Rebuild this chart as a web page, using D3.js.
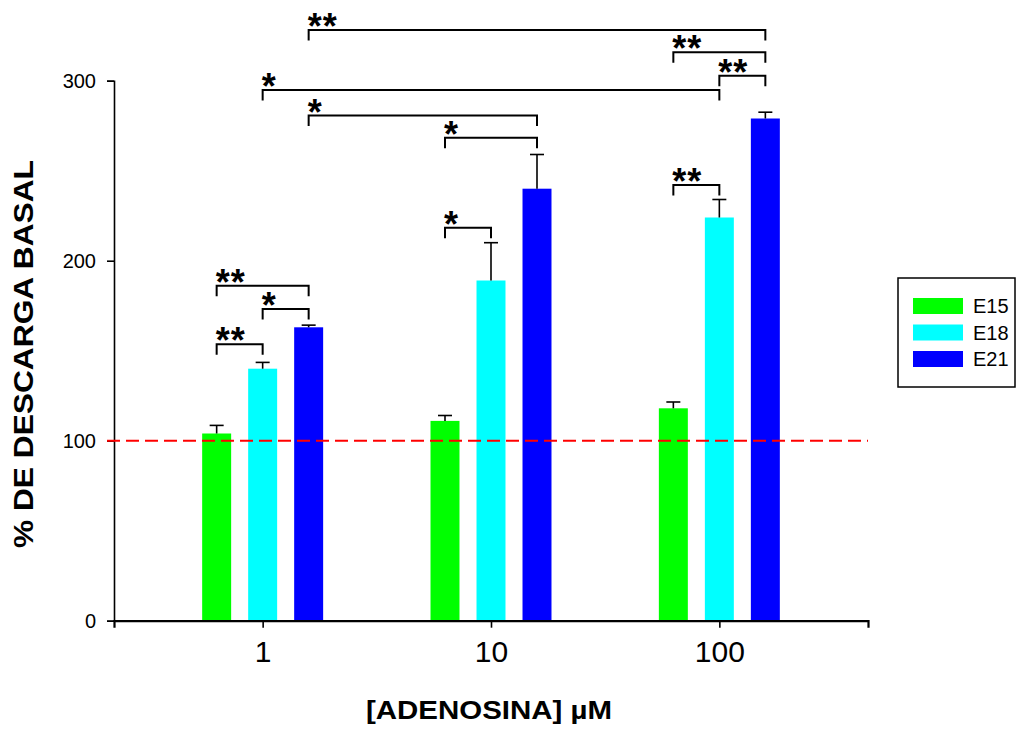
<!DOCTYPE html>
<html>
<head>
<meta charset="utf-8">
<script src="https://cdn.jsdelivr.net/npm/d3@7"></script>
<style>
  html, body { margin: 0; padding: 0; background: #fff; }
  svg { display: block; font-family: Arial, "Liberation Sans", sans-serif; }
</style>
</head>
<body>
<svg id="chart" width="1024" height="732"></svg>
<script>
// ---- data ----
const categories = ["1", "10", "100"];
const seriesNames = ["E15", "E18", "E21"];
const seriesColors = ["#00ff00", "#00ffff", "#0000ff"];
const valuesE15 = [104, 111, 118];
const valuesE18 = [140, 189, 224];
const valuesE21 = [163, 240, 279];
const errorsE15 = [4.5, 3, 3.5];
const errorsE18 = [3.5, 21, 10];
const errorsE21 = [1.2, 19, 3.5];
const yTicks = [0, 100, 200, 300];
const baseline = 100;
const xTitle = "[ADENOSINA] µM";
const yTitle = "% DE DESCARGA BASAL";

// significance brackets: [category, series] from -> to, level (y units), label
const bracketFrom  = [["1","E15"],["1","E18"],["1","E15"],["10","E15"],["10","E15"],["1","E21"],["1","E18"],["1","E21"],["100","E15"],["100","E18"],["100","E15"]];
const bracketTo    = [["1","E18"],["1","E21"],["1","E21"],["10","E18"],["10","E21"],["10","E21"],["100","E18"],["100","E21"],["100","E18"],["100","E21"],["100","E21"]];
const bracketLevel = [153.6, 173.2, 186.1, 218.3, 268.3, 280.6, 294.8, 328.2, 242.1, 302.8, 315.8];
const bracketLabel = ["**", "*", "**", "*", "*", "*", "*", "**", "**", "**", "**"];

// ---- build ----
const valuesBySeries = [valuesE15, valuesE18, valuesE21];
const errorsBySeries = [errorsE15, errorsE18, errorsE21];
const rows = [];
categories.forEach((c, ci) => {
  seriesNames.forEach((s, si) => {
    rows.push({cat: c, ser: s, value: valuesBySeries[si][ci], err: errorsBySeries[si][ci], color: seriesColors[si]});
  });
});

const svg = d3.select("#chart");
const x0 = d3.scalePoint().domain(categories).range([114, 868]).padding(0.651);
const x1 = d3.scaleBand().domain(seriesNames).range([-69, 69]).paddingInner(0.37).paddingOuter(0.185);
const y = d3.scaleLinear().domain([0, 300]).range([620.7, 80.7]);
const color = d3.scaleOrdinal().domain(seriesNames).range(seriesColors);
const cx = (c, s) => x0(c) + x1(s) + x1.bandwidth() / 2;

// bars
svg.append("g").selectAll("rect").data(rows).join("rect")
  .attr("x", d => x0(d.cat) + x1(d.ser))
  .attr("y", d => y(d.value))
  .attr("width", x1.bandwidth())
  .attr("height", d => y(0) - y(d.value))
  .attr("fill", d => d.color);

// error bars
const eg = svg.append("g").attr("stroke", "#000").attr("stroke-width", 1.6);
eg.selectAll("line.v").data(rows).join("line").attr("class", "v")
  .attr("x1", d => cx(d.cat, d.ser)).attr("x2", d => cx(d.cat, d.ser))
  .attr("y1", d => y(d.value)).attr("y2", d => y(d.value + d.err));
eg.selectAll("line.c").data(rows).join("line").attr("class", "c")
  .attr("x1", d => cx(d.cat, d.ser) - 7).attr("x2", d => cx(d.cat, d.ser) + 7)
  .attr("y1", d => y(d.value + d.err)).attr("y2", d => y(d.value + d.err));

// axes
const yAxis = svg.append("g").attr("transform", "translate(114,0)")
  .call(d3.axisLeft(y).tickValues(yTicks).tickSizeOuter(0).tickSize(7).tickPadding(11));
yAxis.select(".domain").attr("stroke-width", 1.6);
yAxis.selectAll(".tick line").attr("stroke-width", 1.6);
yAxis.selectAll(".tick text").attr("font-size", 20).attr("font-family", "Arial, 'Liberation Sans', sans-serif").attr("fill", "#000");

const xAxis = svg.append("g").attr("transform", "translate(0,620.7)")
  .call(d3.axisBottom(x0).tickSizeOuter(0).tickSize(7));
xAxis.select(".domain").attr("stroke-width", 2.2);
xAxis.selectAll(".tick line").attr("stroke-width", 1.6);
xAxis.selectAll(".tick text").attr("font-size", 30).attr("y", 41).attr("dy", 0)
  .attr("font-family", "Arial, 'Liberation Sans', sans-serif").attr("fill", "#000");

// baseline dashed line
svg.append("line")
  .attr("x1", 107).attr("x2", 868)
  .attr("y1", y(baseline)).attr("y2", y(baseline))
  .attr("stroke", "#ff0000").attr("stroke-width", 2).attr("stroke-dasharray", "13,6");

// brackets
const brackets = bracketLevel.map((lv, i) => ({
  xa: cx(bracketFrom[i][0], bracketFrom[i][1]),
  xb: cx(bracketTo[i][0], bracketTo[i][1]),
  yy: y(lv), label: bracketLabel[i]
}));
const bg = svg.append("g");
bg.selectAll("path").data(brackets).join("path")
  .attr("d", d => `M${d.xa},${d.yy + 10.5}V${d.yy}H${d.xb}V${d.yy + 10.5}`)
  .attr("fill", "none").attr("stroke", "#000").attr("stroke-width", 2);
bg.selectAll("text").data(brackets).join("text")
  .attr("x", d => d.xa - 1).attr("y", d => d.yy + 9)
  .attr("font-size", 36).attr("font-weight", "bold").attr("letter-spacing", 1).attr("fill", "#000")
  .text(d => d.label);

// titles
svg.append("text")
  .attr("x", 489).attr("y", 719).attr("text-anchor", "middle")
  .attr("font-size", 26).attr("font-weight", "bold")
  .attr("textLength", 246).attr("lengthAdjust", "spacingAndGlyphs")
  .text(xTitle);
svg.append("text")
  .attr("transform", "translate(33,354) rotate(-90)").attr("text-anchor", "middle")
  .attr("font-size", 28).attr("font-weight", "bold")
  .attr("textLength", 388).attr("lengthAdjust", "spacingAndGlyphs")
  .text(yTitle);

// legend
const lg = svg.append("g");
lg.append("rect").attr("x", 898).attr("y", 278).attr("width", 117).attr("height", 109)
  .attr("fill", "none").attr("stroke", "#000").attr("stroke-width", 1.5);
const li = lg.selectAll("g.item").data(seriesNames).join("g").attr("class", "item")
  .attr("transform", (d, i) => `translate(913,${298 + i * 26.5})`);
li.append("rect").attr("width", 50).attr("height", 16).attr("fill", d => color(d));
li.append("text").attr("x", 60).attr("y", 8).attr("dy", "0.36em")
  .attr("font-size", 20).attr("fill", "#000").text(d => d);
</script>
</body>
</html>
